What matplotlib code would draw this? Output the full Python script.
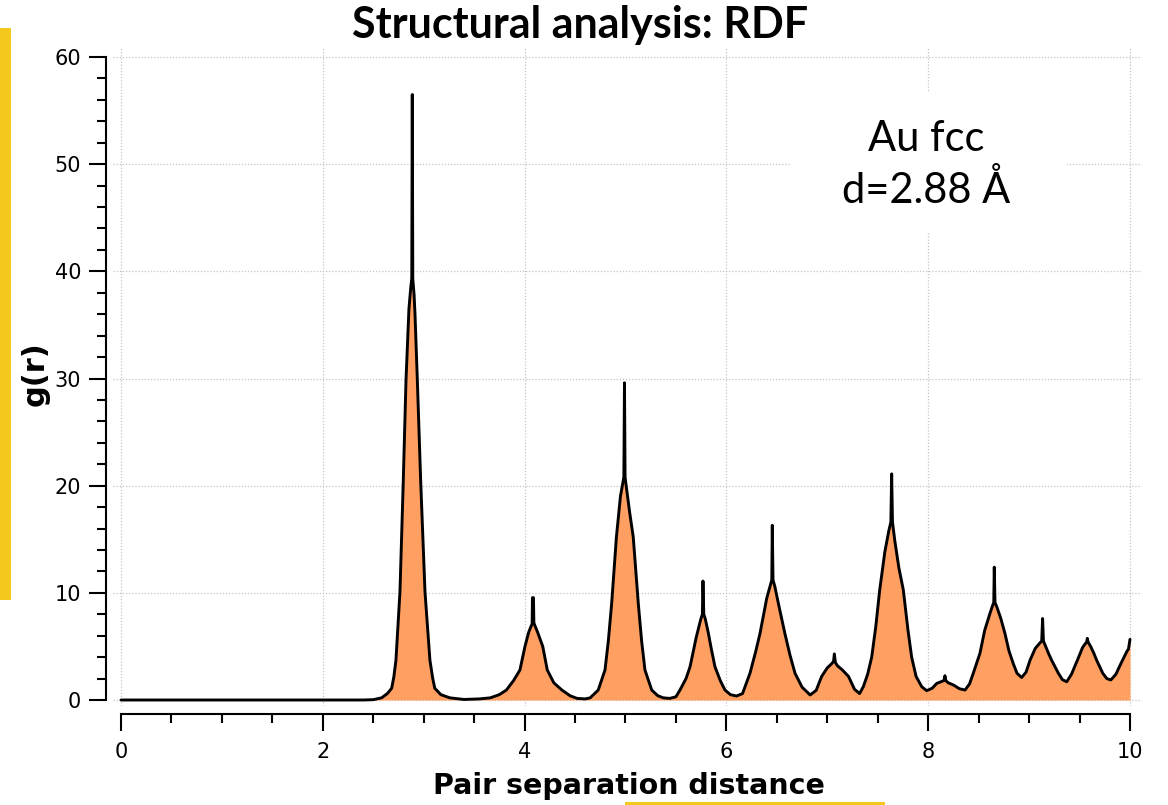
import matplotlib
matplotlib.use("Agg")
import matplotlib.pyplot as plt
from matplotlib.patches import Rectangle
from matplotlib.ticker import MultipleLocator

# ---- data (pair distance r, g(r)) ----
r_vals = [0.0, 2.40, 2.50, 2.583, 2.64, 2.683, 2.705, 2.725, 2.765, 2.798, 2.825, 2.854,
          2.872, 2.882, 2.887, 2.892, 2.905, 2.914, 2.937, 2.97, 3.013, 3.062, 3.09, 3.11,
          3.17, 3.26, 3.40, 3.55,
          3.66, 3.75, 3.82, 3.89, 3.954, 4.004, 4.04, 4.065, 4.075, 4.078, 4.088, 4.092,
          4.10, 4.13, 4.18, 4.225, 4.29, 4.37, 4.45, 4.52, 4.60,
          4.65, 4.73, 4.797, 4.83, 4.863, 4.91, 4.95, 4.975, 4.984, 4.99, 4.996, 5.01,
          5.04, 5.077, 5.127, 5.16, 5.193, 5.26, 5.32, 5.375, 5.44,
          5.50, 5.54, 5.60, 5.64, 5.70, 5.745, 5.762, 5.768, 5.776, 5.79, 5.82, 5.85,
          5.887, 5.94, 5.986, 6.04, 6.10,
          6.16, 6.234, 6.29, 6.333, 6.40, 6.435, 6.45, 6.455, 6.462, 6.48, 6.52, 6.58,
          6.63, 6.68, 6.75, 6.83,
          6.89, 6.944, 7.00, 7.045, 7.062, 7.07, 7.08, 7.10, 7.15, 7.21, 7.27, 7.32,
          7.357, 7.40, 7.44, 7.48, 7.52, 7.57, 7.61, 7.63, 7.638, 7.646, 7.67, 7.71,
          7.753, 7.80, 7.836, 7.88, 7.936, 7.985,
          8.04, 8.085, 8.14, 8.158, 8.166, 8.175, 8.20, 8.25, 8.31, 8.365,
          8.41, 8.447, 8.513, 8.56, 8.613, 8.638, 8.65, 8.655, 8.662, 8.68, 8.72, 8.761,
          8.80, 8.843, 8.88, 8.926,
          8.97, 9.009, 9.06, 9.105, 9.125, 9.134, 9.142, 9.16, 9.19, 9.224, 9.29, 9.33,
          9.373,
          9.42, 9.478, 9.53, 9.56, 9.572, 9.577, 9.585, 9.61, 9.64, 9.67, 9.73, 9.77,
          9.81,
          9.86, 9.92, 9.97, 9.985, 10.0]
g_vals = [0.0, 0.0, 0.03, 0.2, 0.6, 1.1, 2.2, 3.7, 10.1, 20.5, 29.9, 36.5,
          38.5, 39.3, 56.5, 39.3, 37.8, 36.0, 29.9, 20.5, 10.1, 3.7, 2.0, 1.1,
          0.5, 0.2, 0.05, 0.1,
          0.2, 0.5, 0.93, 1.8, 2.8, 5.0, 6.3, 6.9, 7.1, 9.55, 9.55, 7.2,
          7.0, 6.3, 5.0, 2.8, 1.6, 0.93, 0.4, 0.15, 0.1,
          0.2, 0.93, 2.8, 5.5, 9.0, 15.2, 19.0, 20.3, 20.8, 29.6, 20.8, 19.8,
          17.6, 15.2, 9.0, 5.5, 2.8, 0.93, 0.4, 0.2, 0.15,
          0.3, 0.93, 2.0, 3.1, 5.8, 7.5, 8.0, 11.1, 8.0, 7.6, 6.3, 4.8,
          3.1, 1.8, 0.93, 0.5, 0.37,
          0.6, 2.5, 4.5, 6.2, 9.5, 10.7, 11.2, 16.3, 11.2, 10.6, 8.8, 6.2,
          4.2, 2.5, 1.2, 0.47,
          0.9, 2.2, 3.0, 3.4, 3.6, 4.3, 3.5, 3.2, 2.8, 2.2, 1.0, 0.6,
          1.24, 2.4, 4.0, 6.8, 10.3, 13.8, 15.8, 16.6, 21.1, 16.6, 14.8, 12.3,
          10.3, 6.5, 4.0, 2.2, 1.24, 0.87,
          1.1, 1.55, 1.75, 1.85, 2.27, 1.8, 1.6, 1.4, 1.05, 0.93,
          1.5, 2.5, 4.36, 6.5, 8.1, 8.8, 9.1, 12.4, 9.1, 8.7, 7.6, 6.2,
          4.6, 3.4, 2.5, 2.1,
          2.6, 3.7, 4.8, 5.3, 5.5, 7.6, 5.5, 5.1, 4.4, 3.7, 2.5, 1.9,
          1.7,
          2.4, 3.7, 4.9, 5.3, 5.45, 5.75, 5.4, 5.0, 4.4, 3.7, 2.5, 2.0,
          1.87,
          2.4, 3.6, 4.55, 4.75, 5.66]

x_ticks = [0, 2, 4, 6, 8, 10]
y_ticks = [0, 10, 20, 30, 40, 50, 60]
title_text = "Structural analysis: RDF"
x_label = "Pair separation distance"
y_label = "g(r)"
note_text = "Au fcc\nd=2.88 Å"

W, H = 1168, 805
fig = plt.figure(figsize=(W / 100, H / 100), dpi=100)
fig.patch.set_facecolor("white")

ax_l, ax_r, ax_t, ax_b = 113, 1142, 47.7, 706
ax = fig.add_axes([ax_l / W, 1 - ax_b / H, (ax_r - ax_l) / W, (ax_b - ax_t) / H])
ax.set_xlim(-0.079, 10.119)
ax.set_ylim(-0.56, 60.87)

ax.fill_between(r_vals, g_vals, 0, color="#FFA062", linewidth=0, zorder=2)
ax.plot(r_vals, g_vals, color="black", linewidth=2.1, zorder=3,
        solid_joinstyle="round", solid_capstyle="round")

ax.set_xticks(x_ticks)
ax.set_yticks(y_ticks)
ax.xaxis.set_minor_locator(MultipleLocator(0.5))
ax.yaxis.set_minor_locator(MultipleLocator(2))
ax.grid(True, which="major", linestyle=(0, (1, 1.5)), color="#c4c4c4", linewidth=0.9, zorder=0)
ax.set_axisbelow(True)

for s in ["top", "right"]:
    ax.spines[s].set_visible(False)
ax.spines["left"].set_position(("outward", 5))
ax.spines["bottom"].set_position(("outward", 6))
ax.spines["left"].set_bounds(0, 60)
ax.spines["bottom"].set_bounds(0, 10)
for s in ["left", "bottom"]:
    ax.spines[s].set_linewidth(1.5)

ax.tick_params(which="major", length=12, width=1.5, direction="out", labelsize=15, color="black")
ax.tick_params(which="minor", length=6.5, width=1.5, direction="out", color="black")
ax.tick_params(axis="x", which="major", pad=8)
ax.tick_params(axis="y", which="major", pad=6)

# white box behind annotation
fig.patches.append(Rectangle((790 / W, 1 - 232 / H), (1067 - 790) / W, (232 - 93) / H,
                             transform=fig.transFigure, facecolor="white", edgecolor="none", zorder=1))
fig.text(926 / W, 1 - 165 / H, note_text, ha="center", va="center", fontsize=30,
         family="Lato", linespacing=1.38, zorder=5)

fig.text(580 / W, 1 - 25 / H, title_text, ha="center", va="center", fontsize=31,
         family="Lato", fontweight="bold")
fig.text(629 / W, 1 - 786 / H, x_label, ha="center", va="center", fontsize=20.5,
         family="DejaVu Sans", fontweight="bold")
fig.text(35 / W, 1 - 374 / H, y_label, ha="center", va="center", fontsize=22,
         family="DejaVu Sans", fontweight="bold", rotation=90)

# decorative yellow edges
fig.patches.append(Rectangle((0, 1 - 600 / H), 11 / W, (600 - 28) / H, transform=fig.transFigure,
                             facecolor="#F5C81E", edgecolor="none"))
fig.patches.append(Rectangle((625 / W, 0), (885 - 625) / W, 3 / H, transform=fig.transFigure,
                             facecolor="#F5C81E", edgecolor="none"))

fig.savefig("out.png", dpi=100)
